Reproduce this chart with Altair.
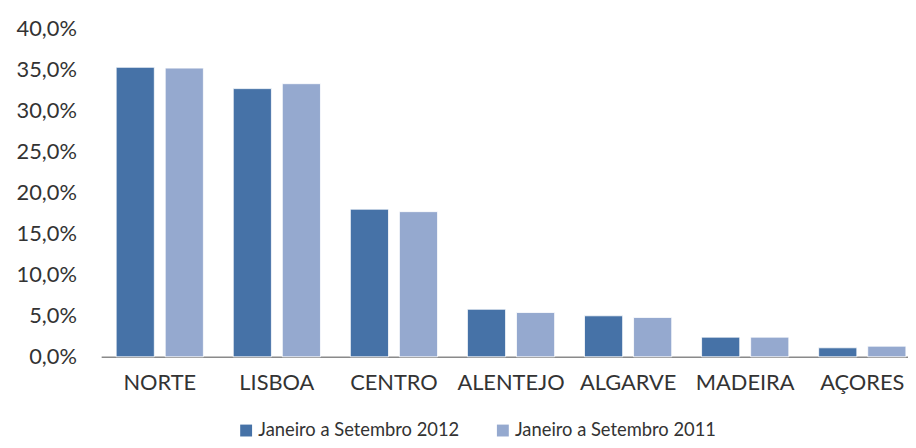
import altair as alt
import pandas as pd

regions = ["NORTE", "LISBOA", "CENTRO", "ALENTEJO", "ALGARVE", "MADEIRA", "AÇORES"]
v2012 = [35.3, 32.7, 18.0, 5.8, 5.0, 2.4, 1.1]
v2011 = [35.2, 33.3, 17.7, 5.4, 4.8, 2.4, 1.3]
series = ["Janeiro a Setembro 2012", "Janeiro a Setembro 2011"]
colors = ["#4672A7", "#95A9CF"]
y_ticks = [0, 5, 10, 15, 20, 25, 30, 35, 40]

rows = []
for r, a, b in zip(regions, v2012, v2011):
    rows.append({"regiao": r, "serie": series[0], "valor": a})
    rows.append({"regiao": r, "serie": series[1], "valor": b})
df = pd.DataFrame(rows)

FONT = "Lato"
chart = (
    alt.Chart(df)
    .mark_bar(stroke="white", strokeWidth=1, strokeOpacity=0.8)
    .encode(
        x=alt.X(
            "regiao:N",
            sort=regions,
            scale=alt.Scale(paddingInner=0.255, paddingOuter=0.128),
            axis=alt.Axis(
                title=None,
                labelAngle=0,
                ticks=False,
                domainColor="#8a8a8a",
                domainWidth=1.5,
                labelPadding=16,
                labelFontSize=22,
                labelFont=FONT,
                labelColor="#333333",
            ),
        ),
        xOffset=alt.XOffset(
            "serie:N", sort=series, scale=alt.Scale(paddingInner=0.222, paddingOuter=0)
        ),
        y=alt.Y(
            "valor:Q",
            scale=alt.Scale(domain=[0, 40], nice=False),
            axis=alt.Axis(
                title=None,
                values=y_ticks,
                grid=False,
                ticks=False,
                domain=False,
                labelPadding=25,
                labelFontSize=22,
                labelFont=FONT,
                labelColor="#333333",
                labelExpr="replace(format(datum.value, '.1f'), '.', ',') + '%'",
            ),
        ),
        color=alt.Color(
            "serie:N",
            sort=series,
            scale=alt.Scale(domain=series, range=colors),
            legend=alt.Legend(
                title=None,
                orient="none",
                direction="horizontal",
                legendX=137,
                legendY=396,
                symbolType="square",
                symbolSize=144,
                symbolStrokeWidth=0,
                labelFontSize=18.5,
                labelFont=FONT,
                labelColor="#333333",
                labelOffset=3,
                columnPadding=34,
                padding=0,
                labelLimit=400,
            ),
        ),
    )
    .properties(
        width=827,
        height=331,
        autosize=alt.AutoSizeParams(type="none"),
        padding={"left": 94, "top": 19, "right": -13, "bottom": 82},
    )
    .configure_view(stroke=None)
)

chart.save("out.html", embed_options={"renderer": "svg", "actions": False})
